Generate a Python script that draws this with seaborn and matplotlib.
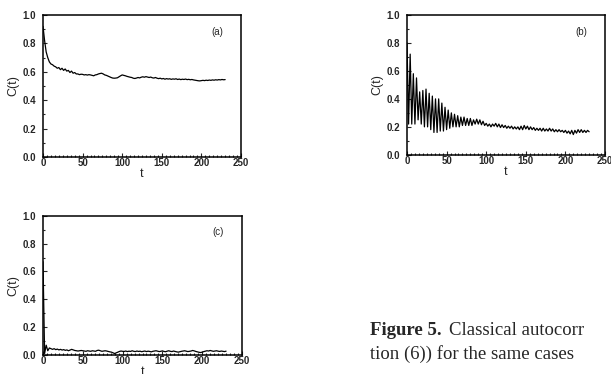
import numpy as np
import matplotlib
matplotlib.use("Agg")
import matplotlib.pyplot as plt
from matplotlib.ticker import MultipleLocator
import seaborn as sns

T = np.arange(0, 232, 2)

C_A = [
    0.92, 0.82, 0.74, 0.70, 0.67, 0.655, 0.65, 0.64, 0.635, 0.625,
    0.63, 0.615, 0.625, 0.61, 0.62, 0.605, 0.61, 0.595, 0.605, 0.59,
    0.595, 0.585, 0.585, 0.58, 0.583, 0.582, 0.578, 0.58, 0.577, 0.58,
    0.578, 0.575, 0.572, 0.578, 0.58, 0.585, 0.588, 0.59, 0.585, 0.578,
    0.575, 0.57, 0.565, 0.56, 0.556, 0.555, 0.556, 0.558, 0.565, 0.572,
    0.578, 0.575, 0.572, 0.568, 0.565, 0.562, 0.56, 0.555, 0.553, 0.556,
    0.56, 0.557, 0.562, 0.565, 0.562, 0.566, 0.563, 0.56, 0.563, 0.558,
    0.556, 0.56, 0.555, 0.552, 0.555, 0.55, 0.553, 0.548, 0.552, 0.549,
    0.551, 0.547, 0.55, 0.548, 0.551, 0.546, 0.549, 0.545, 0.548, 0.546,
    0.549, 0.545, 0.547, 0.544, 0.546, 0.543, 0.541, 0.539, 0.537, 0.536,
    0.538, 0.54, 0.538, 0.541, 0.539, 0.542, 0.54, 0.543, 0.541, 0.544,
    0.542, 0.545, 0.543, 0.546, 0.544, 0.545,
]

C_B = [
    0.80, 0.22, 0.72, 0.22, 0.58, 0.22, 0.55, 0.25, 0.45, 0.22,
    0.46, 0.20, 0.47, 0.20, 0.44, 0.18, 0.42, 0.16, 0.40, 0.16,
    0.40, 0.17, 0.37, 0.17, 0.34, 0.18, 0.32, 0.19, 0.30, 0.20,
    0.29, 0.20, 0.28, 0.20, 0.27, 0.21, 0.27, 0.21, 0.26, 0.21,
    0.26, 0.21, 0.25, 0.22, 0.255, 0.22, 0.25, 0.215, 0.24, 0.21,
    0.225, 0.205, 0.22, 0.20, 0.22, 0.205, 0.225, 0.20, 0.22, 0.195,
    0.215, 0.195, 0.21, 0.19, 0.205, 0.19, 0.205, 0.185, 0.20, 0.185,
    0.20, 0.18, 0.205, 0.18, 0.21, 0.185, 0.205, 0.18, 0.20, 0.18,
    0.195, 0.175, 0.19, 0.175, 0.19, 0.17, 0.19, 0.17, 0.185, 0.17,
    0.19, 0.17, 0.185, 0.165, 0.18, 0.165, 0.18, 0.165, 0.175, 0.16,
    0.175, 0.155, 0.17, 0.15, 0.175, 0.145, 0.175, 0.155, 0.18, 0.16,
    0.18, 0.16, 0.175, 0.16, 0.175, 0.165,
]

C_C = [
    0.67, 0.01, 0.07, 0.03, 0.05, 0.045, 0.04, 0.045, 0.038, 0.042,
    0.036, 0.04, 0.035, 0.038, 0.033, 0.036, 0.03, 0.035, 0.04, 0.036,
    0.032, 0.03, 0.028, 0.03, 0.032, 0.03, 0.028, 0.026, 0.03, 0.028,
    0.026, 0.03, 0.028, 0.026, 0.032, 0.034, 0.03, 0.026, 0.028, 0.03,
    0.028, 0.025, 0.022, 0.02, 0.015, 0.01, 0.015, 0.02, 0.025, 0.028,
    0.026, 0.025, 0.028, 0.024, 0.027, 0.025, 0.03, 0.026, 0.024, 0.028,
    0.025, 0.027, 0.023, 0.026, 0.028, 0.024, 0.027, 0.025, 0.022, 0.026,
    0.028, 0.03, 0.027, 0.024, 0.026, 0.029, 0.025, 0.023, 0.027, 0.03,
    0.026, 0.024, 0.028, 0.025, 0.022, 0.02, 0.023, 0.026, 0.028, 0.03,
    0.027, 0.024, 0.026, 0.028, 0.032, 0.029, 0.025, 0.022, 0.019, 0.017,
    0.02, 0.024, 0.027, 0.03, 0.028, 0.032, 0.029, 0.026, 0.028, 0.03,
    0.027, 0.025, 0.028, 0.026, 0.024, 0.027,
]

PANELS = [
    ("(a)", C_A, [43 / 611, 0.580, 198 / 611, 0.380]),
    ("(b)", C_B, [407 / 611, 0.586, 198 / 611, 0.374]),
    ("(c)", C_C, [43 / 611, 0.051, 199 / 611, 0.372]),
]

# === style ===
sns.set_style("ticks")
plt.rcParams["font.family"] = ["Liberation Sans", "DejaVu Sans"]

fig = plt.figure(figsize=(6.11, 3.74), dpi=100)

for label, vals, rect in PANELS:
    ax = fig.add_axes(rect)
    sns.lineplot(x=T, y=vals, ax=ax, color="black", linewidth=0.9)
    ax.set_xlim(0, 250)
    ax.set_ylim(0, 1.0)
    ax.xaxis.set_major_locator(MultipleLocator(50))
    ax.xaxis.set_minor_locator(MultipleLocator(5))
    ax.yaxis.set_major_locator(MultipleLocator(0.2))
    ax.yaxis.set_minor_locator(MultipleLocator(0.1))
    ax.tick_params(which="both", direction="in", top=False, right=False,
                   labelsize=7, width=0.8)
    ax.tick_params(axis="x", pad=0.5)
    ax.tick_params(axis="y", pad=5)
    ax.tick_params(which="major", length=3)
    ax.tick_params(which="minor", length=1.5)
    ax.yaxis.set_major_formatter(plt.FormatStrFormatter("%.1f"))
    for tl in ax.get_xticklabels() + ax.get_yticklabels():
        tl.set_fontweight("bold")
    for sp in ax.spines.values():
        sp.set_linewidth(1.1)
        sp.set_color("black")
    ax.set_xlabel("t", fontsize=9, labelpad=0)
    ax.set_ylabel("C(t)", fontsize=9, labelpad=2)
    ax.text(0.88, 0.88, label, transform=ax.transAxes, fontsize=7,
            ha="center", va="center")

# caption (only the part the scan shows)
serif = ["Liberation Serif", "DejaVu Serif"]
fig.text(370 / 611, 1 - 335 / 374, "Figure 5.", family=serif,
         fontsize=13.5, fontweight="bold", va="baseline")
fig.text(449 / 611, 1 - 335 / 374, "Classical autocorr",
         family=serif, fontsize=13.5, va="baseline")
fig.text(370 / 611, 1 - 359 / 374, "tion (6)) for the same cases",
         family=serif, fontsize=13.5, va="baseline")

plt.savefig("out.png", dpi=100)
